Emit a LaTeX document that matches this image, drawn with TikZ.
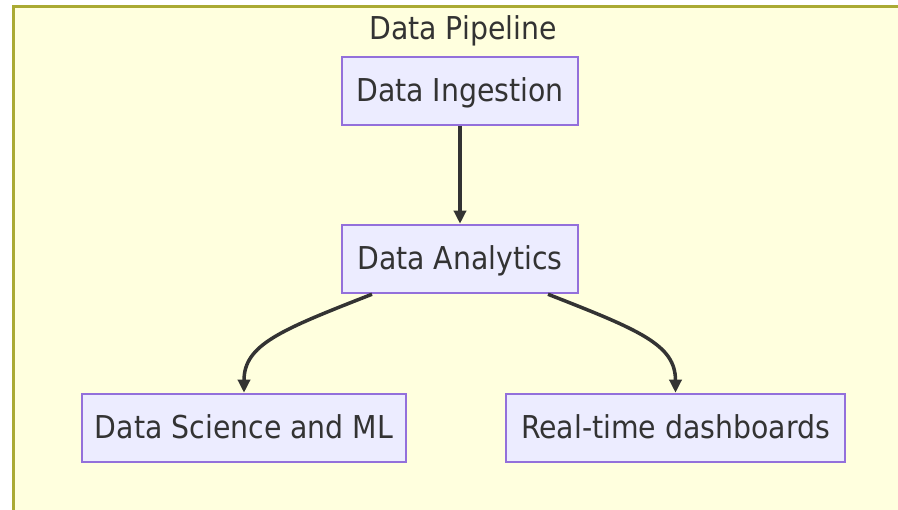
\documentclass[tikz,border=0pt]{standalone}
\usepackage{fontspec}
\setmainfont{DejaVu Sans Condensed}
\usetikzlibrary{arrows.meta}
\definecolor{clusterfill}{HTML}{FFFFDE}
\definecolor{clusterline}{HTML}{AAAA33}
\definecolor{boxfill}{HTML}{ECECFF}
\definecolor{boxline}{HTML}{9370DB}
\definecolor{ink}{HTML}{333333}
\tikzset{
  labeltext/.style={text=ink, font=\fontsize{31.5}{31.5}\selectfont,
    text height=21pt, text depth=0pt},
  stagebox/.style={labeltext, draw=boxline, fill=boxfill, line width=2.5pt,
    inner sep=0pt, minimum height=68pt},
  flow/.style={draw=ink, line width=3.5pt, -{Triangle[length=13pt,width=12pt]}},
}
\begin{document}
\begin{tikzpicture}[x=1pt, y=-1pt]
\useasboundingbox (0,0) rectangle (898,510);
\clip (0,0) rectangle (898,510);
% pipeline group
\draw[clusterline, fill=clusterfill, line width=3pt] (13,7) rectangle (910,525);
\node[labeltext, inner sep=0pt] (title) at (463,29) {Data Pipeline};
% stages
\node[stagebox, minimum width=236pt] (ingest) at (460,91) {Data Ingestion};
\node[stagebox, minimum width=236pt] (analytics) at (460,259) {Data Analytics};
\node[stagebox, minimum width=324pt] (science) at (244,428) {Data Science and ML};
\node[stagebox, minimum width=339pt] (dash) at (675.5,428) {Real-time dashboards};
% connectors
\draw[flow] (ingest.south) -- (analytics.north);
\draw[flow] ([xshift=-88pt]analytics.south) .. controls +(-92,36) and +(0,-48) .. (science.north);
\draw[flow] ([xshift=88pt]analytics.south) .. controls +(92,36) and +(0,-48) .. (dash.north);
\end{tikzpicture}
\end{document}
